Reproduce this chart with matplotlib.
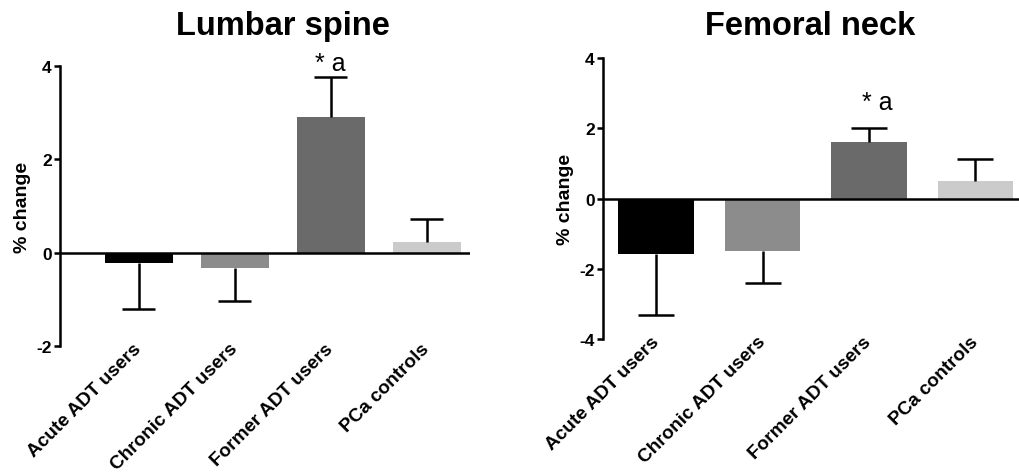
import matplotlib
matplotlib.use("Agg")
import matplotlib.pyplot as plt
import numpy as np

plt.rcParams['font.family'] = ['Liberation Sans', 'DejaVu Sans']

categories = ["Acute ADT users", "Chronic ADT users", "Former ADT users", "PCa controls"]
colors = ["#000000", "#8c8c8c", "#6a6a6a", "#cbcbcb"]

lumbar_mean = [-0.22, -0.32, 2.9, 0.23]
lumbar_err = [0.98, 0.71, 0.86, 0.50]
femoral_mean = [-1.59, -1.48, 1.62, 0.51]
femoral_err = [1.71, 0.91, 0.38, 0.62]

fig = plt.figure(figsize=(10.19, 4.77), dpi=100)
ax1 = fig.add_axes([60/1019, 0.2725, 410/1019, 0.587])
ax2 = fig.add_axes([603/1019, 0.287, 416/1019, 0.589])


def panel(ax, means, errs, ylim, yticks, title, title_x, xlim, ann_y, ann_dx):
    x = np.arange(len(categories))
    w = 0.71
    ax.bar(x, means, width=w, color=colors, edgecolor='none', zorder=2)
    for xi, m, e in zip(x, means, errs):
        end = m + np.sign(m) * e
        ax.vlines(xi, m, end, color='black', lw=1.8, zorder=3)
        ax.hlines(end, xi - 0.17, xi + 0.17, color='black', lw=1.8, zorder=3)
    ax.axhline(0, color='black', lw=1.8, zorder=4)
    ax.set_ylim(*ylim)
    ax.set_xlim(*xlim)
    ax.set_yticks(yticks)
    ax.set_yticklabels([str(t) for t in yticks], fontweight='bold', fontsize=12.5)
    ax.set_xticks(x)
    ax.set_xticklabels(categories, rotation=45, ha='right', va='center',
                       rotation_mode='anchor', fontweight='bold', fontsize=13.7)
    ax.tick_params(axis='x', length=0, pad=0)
    ax.tick_params(axis='y', length=4, width=1.8, pad=2)
    for s in ['top', 'right', 'bottom']:
        ax.spines[s].set_visible(False)
    ax.spines['left'].set_linewidth(1.8)
    ax.set_ylabel("% change", fontweight='bold', fontsize=14, labelpad=4)
    fig.text(title_x, 0.945, title, fontweight='bold', fontsize=23.5,
             ha='center', va='center')
    ax.text(2 + ann_dx, ann_y, "* a", ha='center', va='bottom', fontsize=18)


panel(ax1, lumbar_mean, lumbar_err, (-2, 4), [-2, 0, 2, 4], "Lumbar spine", 283/1019,
      (-0.82, 3.45), 3.8, 0.0)
panel(ax2, femoral_mean, femoral_err, (-4, 4), [-4, -2, 0, 2, 4], "Femoral neck", 810/1019,
      (-0.5, 3.41), 2.4, 0.08)

fig.savefig("out.png", dpi=100)
